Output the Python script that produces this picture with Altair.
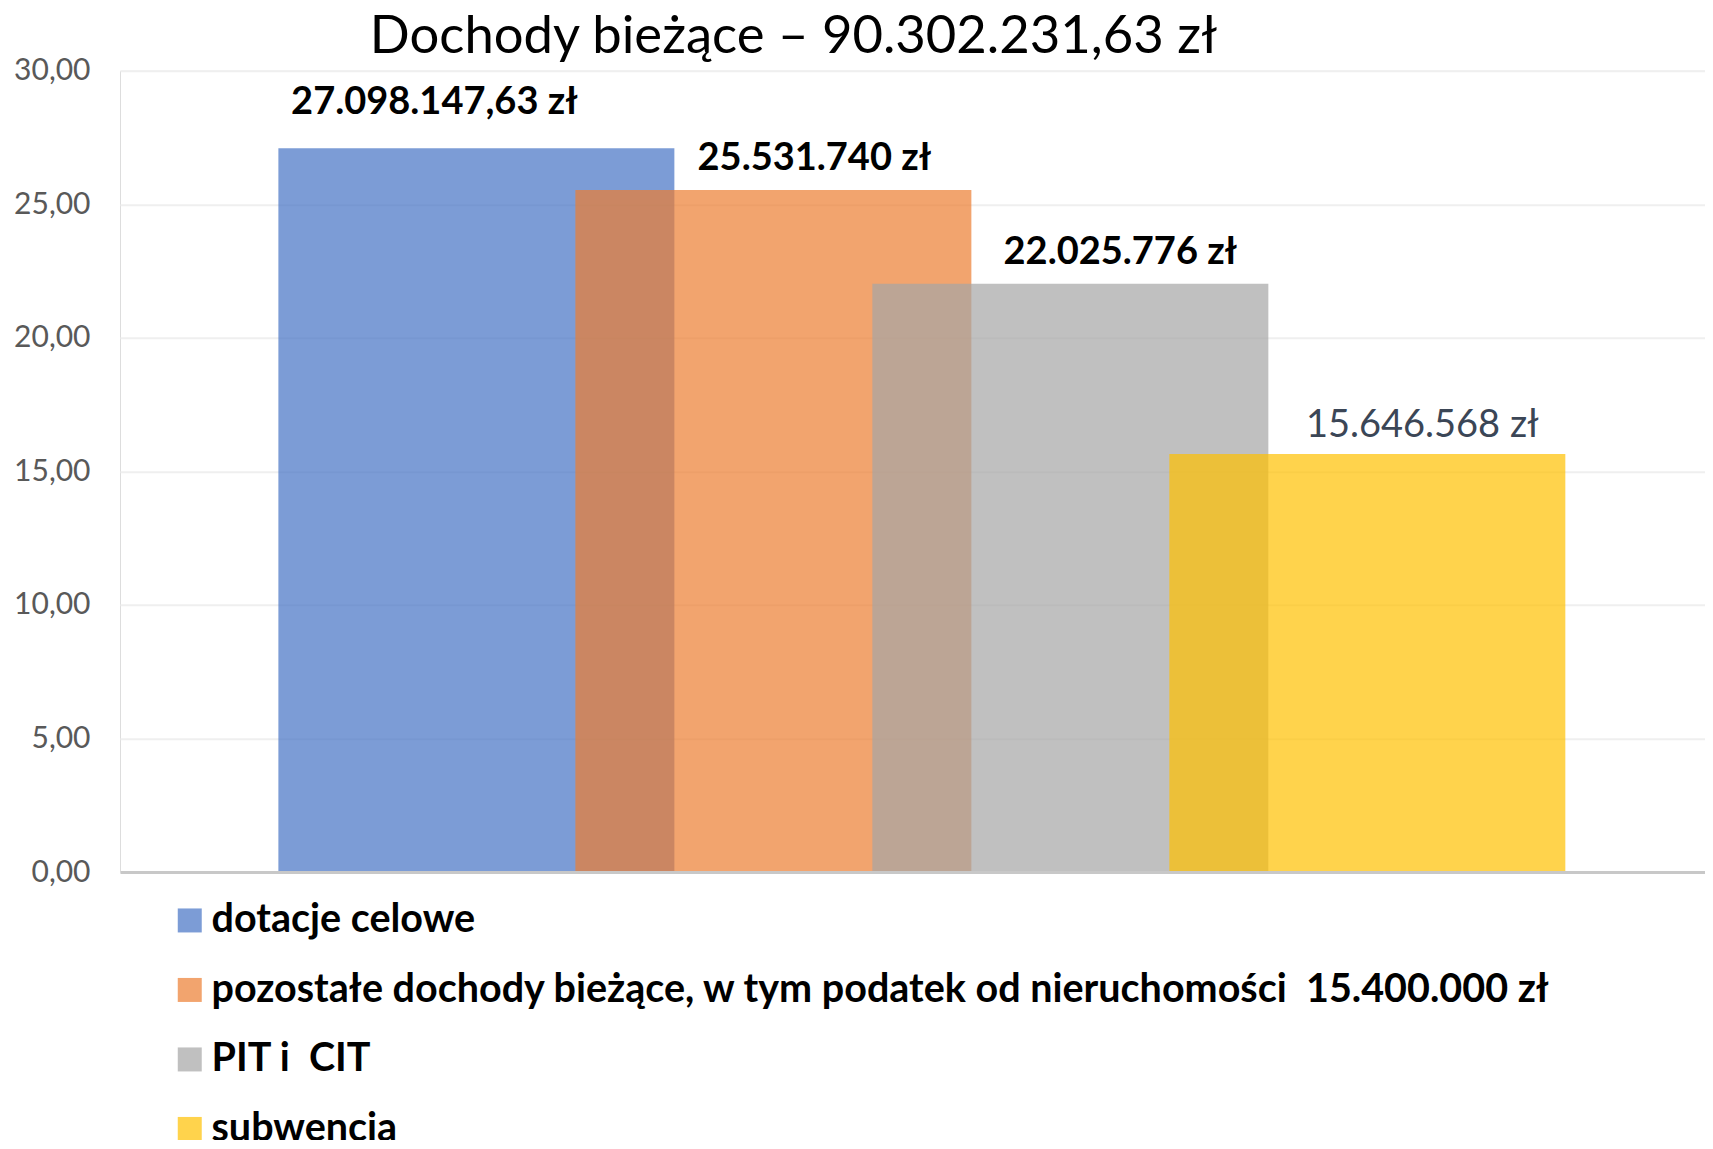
import altair as alt
import pandas as pd

# ---- data ----
categories = [
    "dotacje celowe",
    "pozostałe dochody bieżące, w tym podatek od nieruchomości\u00a0 15.400.000 zł",
    "PIT i\u00a0 CIT",
    "subwencja",
]
values_mln = [27.09814763, 25.531740, 22.025776, 15.646568]
value_labels = ["27.098.147,63 zł", "25.531.740 zł", "22.025.776 zł", "15.646.568 zł"]
colors = ["#4472C4", "#ED7D31", "#A5A5A5", "#FFC000"]
y_ticks = [0, 5, 10, 15, 20, 25, 30]
title_text = "Dochody bieżące – 90.302.231,63 zł"

df = pd.DataFrame({
    "idx": list(range(len(categories))),
    "kategoria": categories,
    "wartosc": values_mln,
    "etykieta": value_labels,
})

HALF = 0.6667  # half bar width in category steps (bars overlap)

xscale = alt.Scale(domain=[-1.2, 4.137], nice=False, zero=False)
yscale = alt.Scale(domain=[0, 30], nice=False)

base = alt.Chart(df)

bars = base.transform_calculate(
    x0=f"datum.idx - {HALF}", x1=f"datum.idx + {HALF}"
).mark_bar(opacity=0.7, strokeWidth=0).encode(
    x=alt.X("x0:Q", scale=xscale,
            axis=alt.Axis(labels=False, ticks=False, grid=False, domain=True,
                          domainColor="#C8C8C8", domainWidth=3, title=None, zindex=1)),
    x2="x1:Q",
    y=alt.Y("wartosc:Q", scale=yscale,
            axis=alt.Axis(values=y_ticks,
                          labelExpr="replace(format(datum.value, '.2f'), '.', ',')",
                          labelFont="Lato", labelFontSize=30, labelColor="#595959",
                          labelPadding=30, ticks=False, domain=False,
                          grid=True, gridColor="#EFEFEF", gridWidth=2, title=None)),
    y2=alt.datum(0),
    color=alt.Color("kategoria:N",
                    scale=alt.Scale(domain=categories, range=colors),
                    sort=categories,
                    legend=alt.Legend(
                        title=None, orient="none", legendX=50, legendY=830,
                        direction="vertical", columns=1,
                        symbolType="square", symbolSize=576, symbolStrokeWidth=0,
                        symbolOpacity=0.7,
                        labelFont="Lato", labelFontSize=39.5, labelFontWeight="bold",
                        labelColor="#000000", labelLimit=2000, labelOffset=2,
                        rowPadding=28.5, padding=0)),
    order=alt.Order("idx:Q"),
)

label_styles = [
    dict(dx=-42, dy=-34, fontWeight="bold", color="#000000"),
    dict(dx=41, dy=-20, fontWeight="bold", color="#000000"),
    dict(dx=50, dy=-19.5, fontWeight="bold", color="#000000"),
    dict(dx=55, dy=-17.5, fontWeight="normal", color="#3B4656"),
]

label_layers = []
for i, st in enumerate(label_styles):
    label_layers.append(
        base.transform_filter(f"datum.idx == {i}").mark_text(
            font="Lato", fontSize=38, fontWeight=st["fontWeight"], color=st["color"],
            align="center", baseline="alphabetic", dx=st["dx"], dy=st["dy"],
        ).encode(
            x=alt.X("idx:Q", scale=xscale),
            y=alt.Y("wartosc:Q", scale=yscale),
            text="etykieta:N",
        )
    )

chart = alt.layer(bars, *label_layers).properties(
    width=1585,
    height=801.3,
    title=alt.TitleParams(
        text=title_text, font="Lato", fontSize=52.6, fontWeight="normal",
        color="#000000", anchor="middle", dx=-119, dy=18, offset=10,
    ),
    autosize=alt.AutoSizeParams(type="none"),
    padding={"left": 112, "top": 62.7, "right": 0, "bottom": 268},
).configure_view(stroke=None).configure(background="#FFFFFF")

chart.save("out.html", embed_options={"renderer": "svg", "actions": False})
